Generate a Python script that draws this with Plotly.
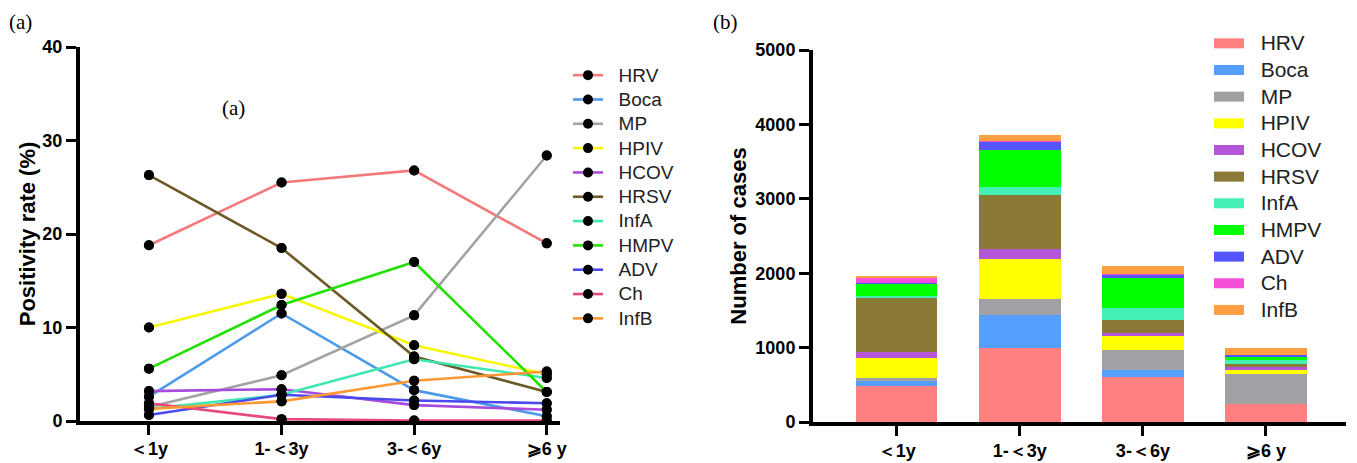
import plotly.graph_objects as go

W, H = 1357, 463

categories = ["＜1y", "1-＜3y", "3-＜6y", "⩾6 y"]
viruses = ["HRV", "Boca", "MP", "HPIV", "HCOV", "HRSV", "InfA", "HMPV", "ADV", "Ch", "InfB"]

# Panel (a): positivity rate (%)
rate_HRV = [18.8, 25.5, 26.8, 19.0]
rate_Boca = [2.6, 11.5, 3.3, 0.5]
rate_MP = [1.5, 4.9, 11.3, 28.4]
rate_HPIV = [10.0, 13.6, 8.1, 5.0]
rate_HCOV = [3.2, 3.4, 1.7, 1.2]
rate_HRSV = [26.3, 18.5, 6.9, 3.1]
rate_InfA = [1.3, 2.8, 6.6, 4.6]
rate_HMPV = [5.6, 12.4, 17.0, 3.1]
rate_ADV = [0.65, 2.8, 2.2, 1.9]
rate_Ch = [1.9, 0.2, 0.05, 0.05]
rate_InfB = [1.3, 2.1, 4.3, 5.3]

# Panel (b): number of cases
n_HRV = [488, 990, 609, 242]
n_Boca = [63, 448, 90, 5]
n_MP = [40, 211, 269, 394]
n_HPIV = [273, 538, 188, 58]
n_HCOV = [81, 134, 40, 36]
n_HRSV = [718, 730, 175, 45]
n_InfA = [35, 108, 161, 48]
n_HMPV = [160, 497, 408, 54]
n_ADV = [17, 112, 49, 19]
n_Ch = [59, 5, 3, 3]
n_InfB = [33, 90, 104, 86]

rates = [rate_HRV, rate_Boca, rate_MP, rate_HPIV, rate_HCOV, rate_HRSV,
         rate_InfA, rate_HMPV, rate_ADV, rate_Ch, rate_InfB]
counts = [n_HRV, n_Boca, n_MP, n_HPIV, n_HCOV, n_HRSV,
          n_InfA, n_HMPV, n_ADV, n_Ch, n_InfB]

line_colors = ["#F47A7A", "#4C9BEA", "#A3A3A3", "#F7F700", "#A64BDB", "#6C5A26",
               "#3EE8B2", "#22E000", "#4949EE", "#E8487E", "#FF9933"]
bar_colors = ["#FF8080", "#55A0FF", "#A1A1A5", "#FFFF00", "#B556D9", "#8B7A36",
              "#44F0B3", "#00FF00", "#5555FF", "#F54FD8", "#FF9E42"]

SANS = "Liberation Sans, Arial, sans-serif"
SERIF = "Liberation Serif, Times New Roman, serif"

fig = go.Figure()

# left: lines (with legend)
for name, vals, col in zip(viruses, rates, line_colors):
    fig.add_trace(go.Scatter(
        x=categories, y=vals, mode="lines+markers",
        name="<span style='font-size:19px'>&nbsp;&nbsp;" + name + "</span>",
        line=dict(color=col, width=2.6),
        marker=dict(color="black", size=10),
        cliponaxis=False, xaxis="x", yaxis="y", legend="legend"))
# markers on top of all lines
for name, vals in zip(viruses, rates):
    fig.add_trace(go.Scatter(
        x=categories, y=vals, mode="markers", showlegend=False,
        marker=dict(color="black", size=10), cliponaxis=False,
        xaxis="x", yaxis="y", hoverinfo="skip"))

# right: stacked bars
for name, vals, col in zip(viruses, counts, bar_colors):
    fig.add_trace(go.Bar(
        x=categories, y=vals, name=name, marker=dict(color=col, line=dict(width=0)),
        showlegend=False, xaxis="x2", yaxis="y2"))
# legend swatches for bars
for name, col in zip(viruses, bar_colors):
    fig.add_trace(go.Scatter(
        x=[None], y=[None], mode="lines",
        name="<span style='font-size:21px'>&nbsp;&nbsp;" + name + "</span>",
        line=dict(color=col, width=10), xaxis="x2", yaxis="y2", legend="legend2"))

def px_x(p):
    return p / W

def px_y(p):
    return (H - p) / H

axis_common = dict(showline=True, linecolor="black", linewidth=4, ticks="outside",
                   ticklen=10, tickwidth=3, tickcolor="black", showgrid=False, zeroline=False,
                   automargin=False,
                   tickfont=dict(family=SANS, size=18, color="black", weight="bold"))

def label(text, x, y):
    return dict(text=text, x=px_x(x), y=px_y(y), xref="paper", yref="paper", showarrow=False,
                xanchor="center", yanchor="middle",
                font=dict(family=SERIF, size=21, color="black"))

fig.update_layout(
    width=W, height=H, margin=dict(l=0, r=0, t=0, b=0, autoexpand=False),
    paper_bgcolor="white", plot_bgcolor="white",
    barmode="stack", bargap=0.338,
    xaxis=dict(domain=[px_x(80), px_x(560)], type="category", range=[-0.52, 3.1],
               anchor="y", ticklabelstandoff=-2, **axis_common),
    yaxis=dict(domain=[px_y(421), px_y(47)], range=[0, 40], tickvals=[0, 10, 20, 30, 40],
               anchor="x",
               title=dict(text="Positivity rate (%)", font=dict(family=SANS, size=22, color="black", weight="bold"), standoff=2),
               **axis_common),
    xaxis2=dict(domain=[px_x(813), px_x(1346)], type="category", range=[-0.68, 3.65],
                anchor="y2", ticklabelstandoff=-1, **axis_common),
    yaxis2=dict(domain=[px_y(422), px_y(50)], range=[0, 5000], tickvals=[0, 1000, 2000, 3000, 4000, 5000],
                anchor="x2",
                title=dict(text="Number of cases", font=dict(family=SANS, size=22, color="black", weight="bold"), standoff=4),
                **axis_common),
    legend=dict(x=px_x(568), y=px_y(58), xanchor="left", yanchor="top", traceorder="normal",
                font=dict(family=SANS, size=16.4, color="#222"), bgcolor="rgba(0,0,0,0)",
                borderwidth=0, tracegroupgap=0),
    legend2=dict(x=px_x(1209), y=px_y(25), xanchor="left", yanchor="top", traceorder="normal",
                 font=dict(family=SANS, size=18.2, color="#222"), bgcolor="rgba(0,0,0,0)",
                 borderwidth=0, tracegroupgap=0),
    annotations=[label("(a)", 20, 22), label("(b)", 725, 22), label("(a)", 233, 108)],
)

fig.write_html("out.html")
